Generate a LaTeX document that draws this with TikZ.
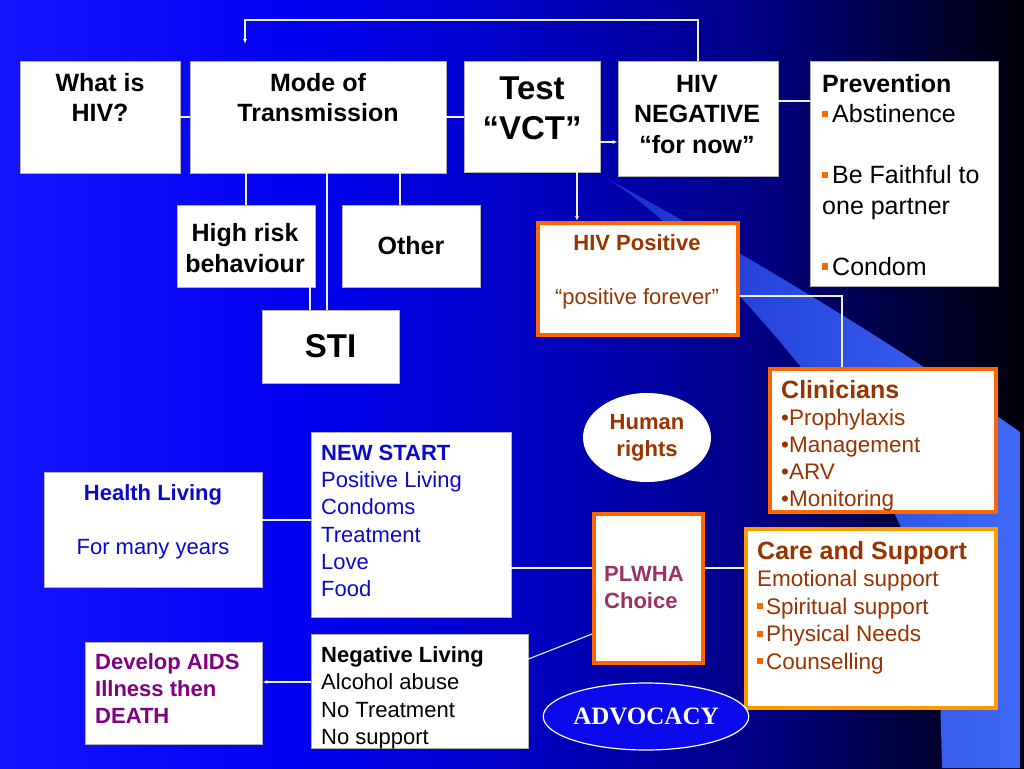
\documentclass[tikz,border=0pt]{standalone}
\usepackage{fontspec}
\setmainfont{Liberation Sans}
\newfontfamily\advfont{Liberation Serif}
\usetikzlibrary{shapes.geometric,arrows.meta}

\definecolor{pptbrown}{RGB}{153,51,0}
\definecolor{pptorange}{RGB}{255,102,0}
\definecolor{pptamber}{RGB}{255,153,0}
\definecolor{pptblue}{RGB}{10,10,200}
\definecolor{pptplum}{RGB}{153,51,102}
\definecolor{pptpurple}{RGB}{128,0,128}
\definecolor{beamblue}{RGB}{62,105,245}
\definecolor{beamtip}{RGB}{25,48,205}
\definecolor{advblue}{RGB}{10,10,235}

\pgfdeclarehorizontalshading{slidebg}{100bp}{rgb(0bp)=(0.08,0.08,1); rgb(25bp)=(0.08,0.08,1); rgb(40bp)=(0,0,0.94); rgb(50bp)=(0,0,0.78); rgb(62bp)=(0,0,0.52); rgb(69bp)=(0,0,0.25); rgb(75bp)=(0,0,0.03); rgb(100bp)=(0,0,0.03)}

% small orange square bullet
\newcommand{\sqb}{\textcolor{pptorange}{\rule[0.22em]{0.24em}{0.26em}}\hspace{0.16em}}

\tikzset{
  wbox/.style={draw=gray!60, fill=white, line width=0.8pt, inner sep=0pt},
  obox/.style={draw=pptorange, fill=white, line width=4pt, inner sep=0pt},
  abox/.style={draw=pptamber, fill=white, line width=4pt, inner sep=0pt},
  txt/.style={inner sep=0pt},
  tbold/.style={font=\bfseries\fontsize{25}{30.5}\selectfont},
  treg/.style={font=\fontsize{25}{30.5}\selectfont},
  tlarge/.style={font=\bfseries\fontsize{33}{40}\selectfont},
  tsmall/.style={font=\fontsize{22}{27.3}\selectfont},
  tsmallb/.style={font=\bfseries\fontsize{22}{27.3}\selectfont},
  link/.style={draw=white!88!gray, line width=1.1pt}
}

\begin{document}
\begin{tikzpicture}[x=1pt, y=-1pt, >={Latex[length=5pt,width=4pt]}]
    \useasboundingbox (0,0) rectangle (1024,768);

    % background and light beam
    \shade[shading=slidebg] (0,0) rectangle (1024,768);
    \shade[left color=beamtip, right color=beamblue] (606,178) .. controls (760,262) and (900,348) .. (1020,432)
        -- (1020,768) -- (942,768) -- (940,690) .. controls (936,570) and (880,470) .. (800,366)
        .. controls (740,292) and (665,214) .. (606,178) -- cycle;

    % top row
    \node[wbox, minimum width=160, minimum height=112] (whatis) at (100,117) {};
    \node[txt, tbold, align=center, anchor=north] (whatis-t) at (100,69.6) {\strut What is\\HIV?};

    \node[wbox, minimum width=256, minimum height=112] (mode) at (318,117) {};
    \node[txt, tbold, align=center, anchor=north] (mode-t) at (318,69.6) {\strut Mode of\\Transmission};

    \node[wbox, minimum width=136, minimum height=111] (test) at (532,116.5) {};
    \node[txt, tlarge, align=center, anchor=north] (test-t) at (532,71) {\strut Test\\“VCT”};

    \node[wbox, minimum width=160, minimum height=115] (neg) at (698,118.5) {};
    \node[txt, tbold, align=center, anchor=north] (neg-t) at (697,70.6) {\strut HIV\\NEGATIVE\\“for now”};

    \node[wbox, minimum width=188, minimum height=225] (prev) at (904,173.5) {};
    \node[txt, treg, align=left, anchor=north west] (prev-t) at (822,70.6)
        {\strut\textbf{Prevention}\\\sqb Abstinence\\[30.5pt]\sqb Be Faithful to\\one partner\\[30.5pt]\sqb Condom};

    % modes of transmission
    \node[wbox, minimum width=138, minimum height=82] (risk) at (246,246) {};
    \node[txt, tbold, align=center, anchor=north] (risk-t) at (245,220) {\strut High risk\\behaviour};

    \node[wbox, tbold, minimum width=138, minimum height=82] (other) at (411,246) {Other};
    \node[wbox, tlarge, minimum width=137, minimum height=73] (sti) at (330.5,346.5) {STI};

    % positive branch
    \node[obox, minimum width=200, minimum height=112] (pos) at (638,279) {};
    \node[txt, tsmall, text=pptbrown, align=center, anchor=north] (pos-t) at (637,231.1)
        {\strut\textbf{HIV Positive}\\[27pt]“positive forever”};

    \node[obox, minimum width=226, minimum height=143] (clin) at (883,440.5) {};
    \node[txt, font=\fontsize{22.5}{27}\selectfont, text=pptbrown, align=left, anchor=north west] (clin-t) at (781,379.1)
        {\strut{\bfseries\fontsize{25}{27}\selectfont Clinicians}\\•Prophylaxis\\•Management\\•ARV\\•Monitoring};

    \node[ellipse, fill=white, inner sep=0pt, minimum width=128, minimum height=89,
        tsmallb, text=pptbrown, align=center] (rights) at (647,437.5) {Human\\rights};

    \node[wbox, minimum width=200, minimum height=185] (start) at (411,524.5) {};
    \node[txt, tsmall, text=pptblue, align=left, anchor=north west] (start-t) at (321,440.8)
        {\strut\textbf{NEW START}\\Positive Living\\Condoms\\Treatment\\Love\\Food};

    \node[wbox, minimum width=218, minimum height=115] (health) at (153,529.5) {};
    \node[txt, tsmall, text=pptblue, align=center, anchor=north] (health-t) at (153,481.1)
        {\strut\textbf{Health Living}\\[27pt]For many years};

    \node[obox, minimum width=109, minimum height=149] (plwha) at (648.5,588.5) {};
    \node[txt, tsmallb, text=pptplum, align=left, anchor=north west] (plwha-t) at (604,562.1) {\strut PLWHA\\Choice};

    \node[abox, minimum width=250, minimum height=179] (care) at (871,618.5) {};
    \node[txt, font=\fontsize{22.5}{27.5}\selectfont, text=pptbrown, align=left, anchor=north west] (care-t) at (757,539.8)
        {\strut{\bfseries\fontsize{25}{27.5}\selectfont Care and Support}\\Emotional support\\\sqb Spiritual support\\\sqb Physical Needs\\\sqb Counselling};

    \node[wbox, minimum width=217, minimum height=114] (neglive) at (419.5,691) {};
    \node[txt, tsmall, align=left, anchor=north west] (neglive-t) at (321,643.1)
        {\strut\textbf{Negative Living}\\Alcohol abuse\\No Treatment\\No support};

    \node[wbox, minimum width=177, minimum height=102] (aids) at (173.5,693) {};
    \node[txt, tsmallb, text=pptpurple, align=left, anchor=north west] (aids-t) at (95,649.8)
        {\strut Develop AIDS\\Illness then\\DEATH};

    \node[ellipse, draw=white, line width=1.2pt, fill=advblue, inner sep=0pt, minimum width=188, minimum height=67,
        text=white, font=\advfont\bfseries\fontsize{25}{30}\selectfont] (advocacy) at (646,716.5) {ADVOCACY};

    % connectors
    \coordinate (loopR) at (698,20);
    \coordinate (looptip) at (245,44);
    \draw[link,->] (neg.north) -- (loopR) -| (looptip);

    \draw[link] (whatis.east) -- (mode.west);
    \draw[link] (mode.east) -- (mode.east -| test.west);

    \coordinate (vct-out) at ([yshift=-25.5pt]test.east);
    \draw[link,->] (vct-out) -- (vct-out -| neg.west);

    \coordinate (neg-out) at ([yshift=17.5pt]neg.east);
    \draw[link] (neg-out) -- (neg-out -| prev.west);

    \draw[link] (risk.north |- mode.south) -- (risk.north);
    \coordinate (other-in) at ([xshift=-11pt]other.north);
    \draw[link] (other-in |- mode.south) -- (other-in);
    \coordinate (sti-in) at ([xshift=-3.5pt]sti.north);
    \draw[link] (sti-in |- mode.south) -- (sti-in);
    \coordinate (sti-risk) at ([xshift=-20.5pt]sti.north);
    \draw[link] (sti-risk |- risk.south) -- (sti-risk);

    \coordinate (pos-in) at ([xshift=45pt]test.south);
    \draw[link,->] (pos-in) -- (pos-in |- pos.north);
    \coordinate (pos-out) at ([yshift=-17pt]pos.east);
    \coordinate (clin-in) at ([xshift=-41pt]clin.north);
    \draw[link] (pos-out) -| (clin-in);

    \coordinate (health-out) at ([yshift=9.5pt]health.east);
    \draw[link] (health-out) -- (health-out -| start.west);
    \coordinate (start-out) at ([yshift=-43.5pt]start.east);
    \draw[link] (start-out) -- (start-out -| plwha.west);
    \coordinate (plwha-out) at ([yshift=20.5pt]plwha.east);
    \draw[link] (plwha-out) -- (plwha-out -| care.west);
    \draw[link] ([yshift=-45.5pt]plwha.west) -- ([yshift=32pt]neglive.east);
    \coordinate (neg-aids) at ([yshift=9pt]neglive.west);
    \draw[link,->] (neg-aids) -- (neg-aids -| aids.east);
\end{tikzpicture}
\end{document}
